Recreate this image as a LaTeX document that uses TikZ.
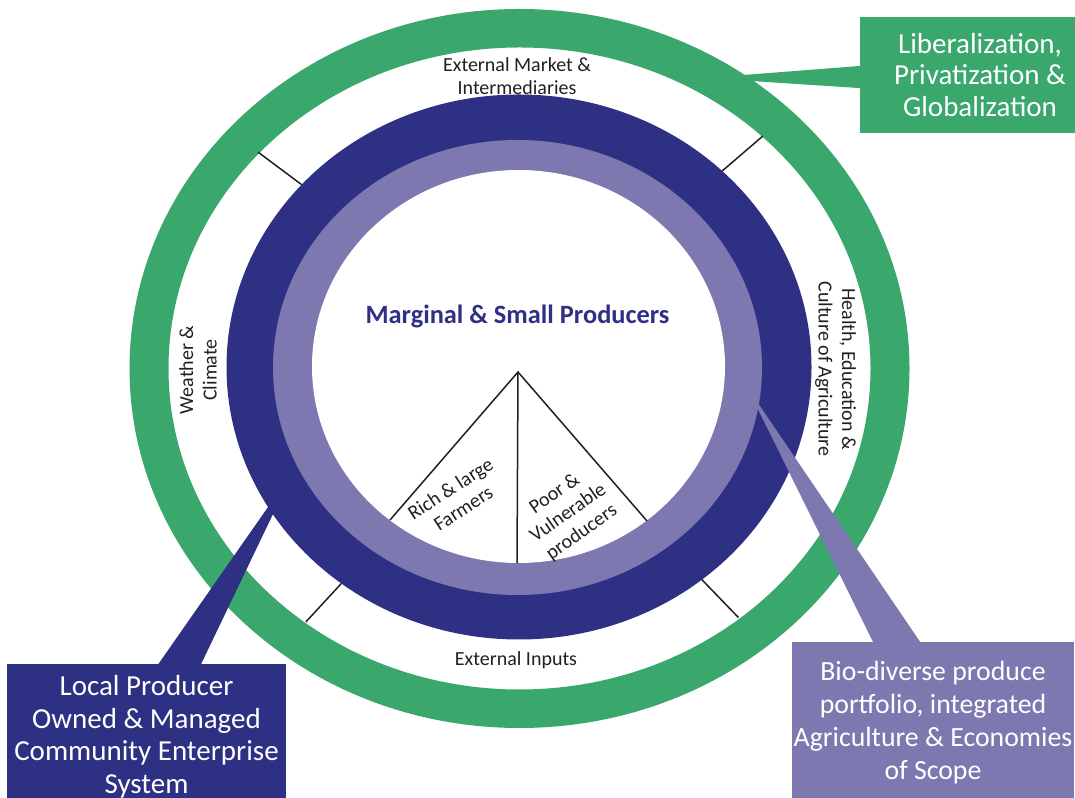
\documentclass[tikz,border=0pt]{standalone}
\usepackage{fontspec}
\setmainfont{Carlito}
\definecolor{ringgreen}{HTML}{3AA76D}
\definecolor{deepblue}{HTML}{2E3084}
\definecolor{lavender}{HTML}{7E78B0}
\definecolor{inkdark}{HTML}{231F20}
\tikzset{
  tick/.style={draw=inkdark, line width=1.5pt},
  ringlabel/.style={text=inkdark, font=\fontsize{20}{23.5}\selectfont, align=center, inner sep=0pt},
  calloutbox/.style={inner sep=0pt, align=center, text=white,
    font=\fontsize{29}{32.7}\selectfont},
}
\begin{document}
\begin{tikzpicture}[x=1pt,y=1pt]
\useasboundingbox (0,0) rectangle (1075,797);

% centres of the concentric rings
\coordinate (G) at (519.5,428.5);
\coordinate (C) at (519,430);
\coordinate (CL) at (517.5,429.5);
\coordinate (CW) at (518.5,430.5);

% outer green ring
\fill[ringgreen, even odd rule] (G) ellipse [x radius=390, y radius=359.5]
                                (G) ellipse [x radius=351, y radius=321];
% dark blue and lavender bands with the white core
\fill[deepblue] (C) ellipse [x radius=292.5, y radius=272.5];
\fill[lavender] (CL) ellipse [x radius=244.5, y radius=227.5];
\fill[white] (CW) ellipse [x radius=206.5, y radius=196.5];

% radial ticks splitting the gap between the bands
\path[shift={(C)}]
  (138:351 and 321)     coordinate (t1o) (138:292.5 and 272.5)   coordinate (t1i)
  (46:351 and 321)      coordinate (t2o) (46:292.5 and 272.5)    coordinate (t2i)
  (232.6:351 and 321)   coordinate (t3o) (232.6:292.5 and 272.5) coordinate (t3i)
  (-51.3:351 and 321)   coordinate (t4o) (-51.3:292.5 and 272.5) coordinate (t4i);
\draw[tick] (t1i) -- (t1o);
\draw[tick] (t2i) -- (t2o);
\draw[tick] (t3i) -- (t3o);
\draw[tick] (t4i) -- (t4o);

% labels in the gap
\node[ringlabel] (market) at (517,721) {External Market \&\\Intermediaries};
\node[ringlabel] (inputs) at (516,137) {External Inputs};
\node[ringlabel, rotate=90] (weather) at (198,427) {Weather \&\\Climate};
\node[ringlabel, rotate=-90] (health) at (835.5,428) {Health, Education \&\\Culture of Agriculture};

% core: title and the split pyramid
\node[text=deepblue, font=\fontsize{26.4}{30}\selectfont\bfseries, inner sep=0pt]
  (title) at (517.5,481) {Marginal \& Small Producers};
\coordinate (apex) at (518,425);
\coordinate (footL) at (390,277);
\coordinate (footR) at (647,276);
\coordinate (footM) at (517,234);
\draw[tick, line join=miter] (footL) -- (apex) -- (footR);
\draw[tick] (apex) -- (footM);
\node[ringlabel, rotate=33] (rich) at (456.7,298.7) {Rich \& large\\Farmers};
\node[ringlabel, rotate=35] (poor) at (568.3,283.7) {Poor \&\\Vulnerable\\producers};

% callout: liberalization
\coordinate (gtip) at (705,719);
\node[calloutbox, fill=ringgreen, minimum width=240, minimum height=116,
      font=\fontsize{29}{31.5}\selectfont] (libbox) at (980,722)
  {Liberalization,\\Privatization \&\\Globalization};
\fill[ringgreen] (gtip) -- (866,731.5) -- (866,708.5) -- cycle;

% callout: local enterprise
\coordinate (btip) at (294.6,328);
\node[calloutbox, fill=deepblue, minimum width=279, minimum height=146.2] (localbox) at (146.5,60.3)
  {Local Producer\\Owned \& Managed\\Community Enterprise\\System};
\fill[deepblue] (btip) -- (156.3,130) -- (199.7,130) -- cycle;

% callout: bio-diverse portfolio
\coordinate (ptip) at (747,410);
\node[calloutbox, fill=lavender, minimum width=282, minimum height=160.4,
      font=\fontsize{27.8}{33}\selectfont] (biobox) at (933,74.8)
  {Bio-diverse produce\\portfolio, integrated\\Agriculture \& Economies\\of Scope};
\fill[lavender] (ptip) -- (875,151) -- (922.9,151) -- cycle;
\end{tikzpicture}
\end{document}
